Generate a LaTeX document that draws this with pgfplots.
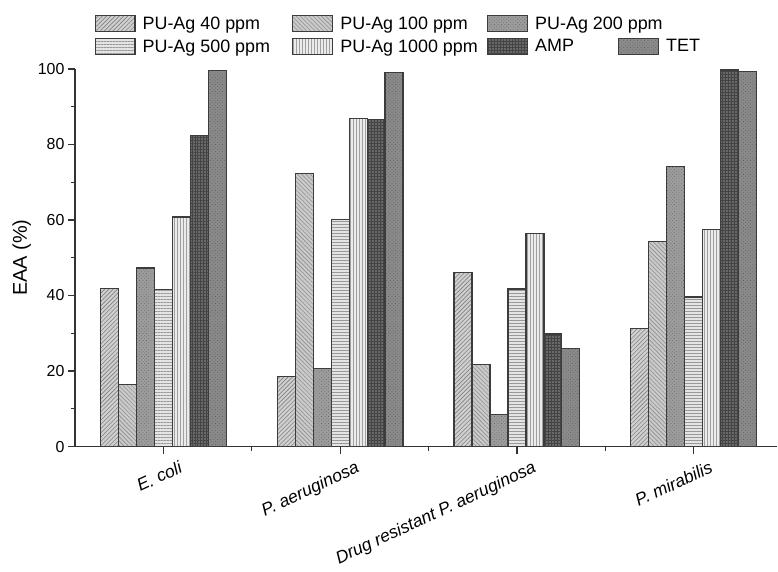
\documentclass[border=0pt]{standalone}
\usepackage{fontspec}
\setmainfont{Liberation Sans}
\usepackage{pgfplots}
\pgfplotsset{compat=1.18}
\usetikzlibrary{patterns,patterns.meta}
\definecolor{edge}{HTML}{3C3C3C}
\definecolor{axisc}{HTML}{333333}
\definecolor{c40}{HTML}{D0D0D0}
\definecolor{p40}{HTML}{808080}
\definecolor{c100}{HTML}{CACACA}
\definecolor{p100}{HTML}{909090}
\definecolor{c200}{HTML}{9C9C9C}
\definecolor{p200}{HTML}{666666}
\definecolor{c500}{HTML}{E4E4E4}
\definecolor{p500}{HTML}{999999}
\definecolor{c1000}{HTML}{EBEBEB}
\definecolor{p1000}{HTML}{A0A0A0}
\definecolor{cAMP}{HTML}{686868}
\definecolor{pAMP}{HTML}{444444}
\definecolor{cTET}{HTML}{8A8A8A}
\definecolor{pTET}{HTML}{5C5C5C}
\pgfplotsset{
 s40/.style={draw=edge, line width=1.2bp, fill=c40, postaction={pattern={Lines[angle=45,distance=3bp,line width=0.6bp]}, pattern color=p40}},
 s100/.style={draw=edge, line width=1.2bp, fill=c100, postaction={pattern={Lines[angle=-45,distance=3bp,line width=0.6bp]}, pattern color=p100}},
 s200/.style={draw=edge, line width=1.2bp, fill=c200, postaction={pattern={Dots[angle=45,distance=2.5bp,radius=0.5bp]}, pattern color=p200}},
 s500/.style={draw=edge, line width=1.2bp, fill=c500, postaction={pattern={Lines[angle=0,distance=3bp,line width=0.6bp]}, pattern color=p500}},
 s1000/.style={draw=edge, line width=1.2bp, fill=c1000, postaction={pattern={Lines[angle=90,distance=3bp,line width=0.6bp]}, pattern color=p1000}},
 sAMP/.style={draw=edge, line width=1.2bp, fill=cAMP, postaction={pattern={Hatch[angle=0,distance=3bp,line width=0.6bp]}, pattern color=pAMP}},
 sTET/.style={draw=edge, line width=1.2bp, fill=cTET, postaction={pattern={Dots[angle=45,distance=2.5bp,radius=0.5bp]}, pattern color=pTET}},
}
\begin{document}
\begin{tikzpicture}
\begin{axis}[
 name=ax,
 scale only axis, width=703bp, height=378bp,
 ybar=0pt, bar width=0.1017,
 legend image code/.code={\draw[#1] (0bp,-8bp) rectangle (40bp,8bp);},
 xmin=-0.5, xmax=3.472, ymin=0, ymax=100,
 axis lines=left, axis line style={-, line width=1.6bp, color=axisc},
 xtick={0,1,2,3},
 xticklabels={E. coli, P. aeruginosa, Drug resistant P. aeruginosa, P. mirabilis},
 minor xtick={0.5,1.5,2.5},
 ytick={0,20,...,100}, minor ytick={10,30,...,90},
 tick align=outside, major tick length=7bp, minor tick length=4bp,
 tick style={line width=1.2bp, color=axisc},
 xticklabel style={rotate=25, anchor=north east, font=\itshape\fontsize{17.5}{20}\selectfont, xshift=14bp, yshift=-9bp},
 yticklabel style={font=\fontsize{16}{19}\selectfont},
 /pgf/number format/assume math mode=true,
 ylabel={EAA (\%)}, ylabel style={font=\fontsize{20}{24}\selectfont},
 legend columns=4,
 legend style={draw=none, fill=none, at={(0,1)}, anchor=north west, xshift=19.4bp, yshift=54.6bp,
   font=\fontsize{18}{20}\selectfont, inner sep=0pt, column sep=0pt, row sep=5bp,
   nodes={inner sep=2bp}, cells={anchor=west}},
]
\addplot[s40] coordinates {(0,41.8) (1,18.6) (2,46.1) (3,31.3)};
\addlegendentry{\makebox[152.8bp][l]{\hspace{5bp}PU-Ag 40 ppm}}
\addplot[s100] coordinates {(0,16.4) (1,72.4) (2,21.7) (3,54.3)};
\addlegendentry{\makebox[149.8bp][l]{\hspace{5bp}PU-Ag 100 ppm}}
\addplot[s200] coordinates {(0,47.3) (1,20.6) (2,8.5) (3,74.2)};
\addlegendentry{\makebox[85.8bp][l]{\hspace{5bp}PU-Ag 200 ppm}}
\addlegendimage{empty legend}
\addlegendentry{}
\addplot[s500] coordinates {(0,41.5) (1,60.2) (2,41.7) (3,39.6)};
\addlegendentry{\makebox[152.8bp][l]{\hspace{5bp}PU-Ag 500 ppm}}
\addplot[s1000] coordinates {(0,60.8) (1,86.8) (2,56.5) (3,57.4)};
\addlegendentry{\makebox[149.8bp][l]{\hspace{5bp}PU-Ag 1000 ppm}}
\addplot[sAMP] coordinates {(0,82.3) (1,86.6) (2,29.8) (3,99.7)};
\addlegendentry{\makebox[85.8bp][l]{\hspace{5bp}AMP}}
\addplot[sTET] coordinates {(0,99.5) (1,99.0) (2,25.9) (3,99.3)};
\addlegendentry{\hspace{5bp}TET}
\end{axis}
\path ([xshift=-75bp,yshift=-123bp]ax.south west) rectangle ([yshift=69bp]ax.north east);
\end{tikzpicture}
\end{document}
